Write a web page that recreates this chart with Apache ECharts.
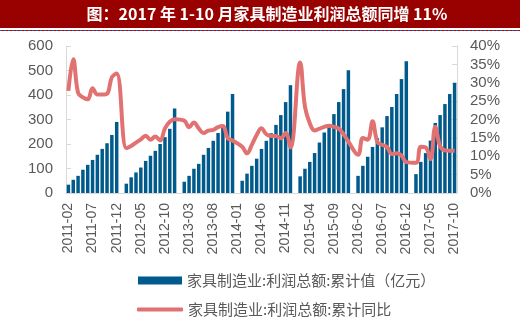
<!DOCTYPE html>
<html><head><meta charset="utf-8">
<script src="https://cdn.jsdelivr.net/npm/echarts@6/dist/echarts.min.js"></script>
<style>html,body{margin:0;padding:0;background:#fff}#c{width:520px;height:321px}</style>
</head><body><div id="c"></div>
<script>
// Months shown: 2011-02 .. 2017-10 (January has no separate release -> null)
const years = [2011, 2012, 2013, 2014, 2015, 2016, 2017];
const startMonth = 2;   // first month of 2011 shown
const endMonth = 10;    // last month of 2017 shown

// 家具制造业:利润总额:累计值（亿元）
const profit2011 = [34, 54, 70, 95, 115, 135, 156, 180, 203, 237, 290];
const profit2012 = [null, 38, 64, 84, 104, 131, 152, 172, 200, 228, 262, 345];
const profit2013 = [null, 46, 70, 99, 119, 156, 184, 213, 245, 278, 332, 404];
const profit2014 = [null, 50, 79, 111, 140, 180, 213, 244, 278, 318, 371, 440];
const profit2015 = [null, 68, 99, 127, 163, 206, 247, 268, 322, 371, 424, 501];
const profit2016 = [null, 70, 111, 148, 188, 224, 268, 314, 351, 404, 465, 538];
const profit2017 = [null, 77, 127, 163, 214, 286, 318, 363, 404, 450];

// 家具制造业:利润总额:累计同比 (%)
const yoy2011 = [27.8, 36.4, 27.3, 26.0, 25.5, 28.5, 26.8, 26.8, 27.0, 31.5, 32.5];
const yoy2012 = [null, 12.2, 12.8, 13.7, 14.6, 15.6, 14.5, 15.4, 14.3, 17.6, 19.4, 20.1];
const yoy2013 = [null, 19.7, 17.9, 19.2, 17.6, 16.3, 17.0, 17.2, 17.9, 18.2, 14.9, 14.3];
const yoy2014 = [null, 12.6, 10.8, 13.1, 15.8, 17.6, 16.0, 15.5, 15.5, 14.9, 16.3, 12.4];
const yoy2015 = [null, 35.5, 23.5, 19.0, 17.0, 17.5, 18.0, 18.3, 18.0, 17.5, 16.0, 14.0];
const yoy2016 = [null, 10.4, 15.0, 14.5, 19.5, 13.9, 13.1, 12.5, 10.6, 10.8, 10.2, 8.4];
const yoy2017 = [null, 8.2, 12.6, 12.4, 9.2, 18.0, 12.8, 11.6, 11.5, 11.5];

const leftAxis = {min: 0, max: 600, step: 100};
const rightAxis = {min: 0, max: 40, step: 5};

const titleText = '图：2017 年 1-10 月家具制造业利润总额同增 11%';
const barName = '家具制造业:利润总额:累计值（亿元）';
const lineName = '家具制造业:利润总额:累计同比';

const categories = [];
years.forEach(y => {
  const m0 = y === years[0] ? startMonth : 1;
  const m1 = y === years[years.length - 1] ? endMonth : 12;
  for (let m = m0; m <= m1; m++) categories.push(y + '-' + (m < 10 ? '0' + m : m));
});
const profit = [].concat(profit2011, profit2012, profit2013, profit2014, profit2015, profit2016, profit2017);
const yoy = [].concat(yoy2011, yoy2012, yoy2013, yoy2014, yoy2015, yoy2016, yoy2017);

const gray = '#595959', axisGray = '#D9D9D9';
const chart = echarts.init(document.getElementById('c'), null, {renderer: 'canvas'});
chart.setOption({
  animation: false,
  backgroundColor: '#fff',
  graphic: [
    {type: 'rect', shape: {x: 0, y: 0, width: 520, height: 28}, style: {fill: '#990000'}, z: 0},
    {type: 'line', shape: {x1: 0, y1: 30.5, x2: 520, y2: 30.5}, style: {stroke: '#C00000', lineWidth: 1}},
    {type: 'line', shape: {x1: 0, y1: 30.5, x2: 520, y2: 30.5}, style: {stroke: '#3355AA', lineWidth: 1, lineDash: [2, 2]}},
    {type: 'text', x: 267, y: 14, style: {text: titleText, fill: '#fff', font: 'bold 16px "Noto Sans CJK SC"', textAlign: 'center', textVerticalAlign: 'middle'}, z: 10}
  ],
  grid: {left: 66, right: 63, top: 46, bottom: 128},
  legend: [
    {data: [barName], left: 133, top: 268, orient: 'vertical', icon: 'rect', itemWidth: 44, itemHeight: 8,
     textStyle: {fontSize: 15, color: gray, fontFamily: 'Noto Sans CJK SC'}},
    {data: [lineName], left: 132, top: 297, orient: 'vertical', icon: 'roundRect', itemWidth: 46, itemHeight: 4,
     textStyle: {fontSize: 15, color: gray, fontFamily: 'Noto Sans CJK SC'}}
  ],
  xAxis: {
    type: 'category', data: categories, boundaryGap: true,
    axisLine: {lineStyle: {color: axisGray, width: 1}},
    axisTick: {inside: true, interval: 4, length: 5, lineStyle: {color: axisGray}},
    axisLabel: {interval: 4, rotate: 90, fontSize: 14, color: gray, margin: 10, fontFamily: 'Liberation Sans'}
  },
  yAxis: [
    {type: 'value', min: leftAxis.min, max: leftAxis.max, interval: leftAxis.step,
     axisLine: {show: true, lineStyle: {color: axisGray}},
     axisTick: {show: true, inside: true, length: 5, lineStyle: {color: axisGray}},
     splitLine: {show: false},
     axisLabel: {fontSize: 15, color: gray, margin: 13, fontFamily: 'Liberation Sans'}},
    {type: 'value', position: 'right', min: rightAxis.min, max: rightAxis.max, interval: rightAxis.step,
     axisLine: {show: true, lineStyle: {color: axisGray}},
     axisTick: {show: true, inside: true, length: 5, lineStyle: {color: axisGray}},
     splitLine: {show: false},
     axisLabel: {fontSize: 15, color: gray, margin: 13, formatter: '{value}%', fontFamily: 'Liberation Sans'}}
  ],
  series: [
    {name: barName, type: 'bar', data: profit, barWidth: '72%', itemStyle: {color: '#005A8C'}, z: 2},
    {name: lineName, type: 'line', yAxisIndex: 1, data: yoy, smooth: 0.4, connectNulls: true, symbol: 'none',
     lineStyle: {color: '#E27272', width: 4}, itemStyle: {color: '#E27272'}, z: 3}
  ]
});
</script></body></html>
